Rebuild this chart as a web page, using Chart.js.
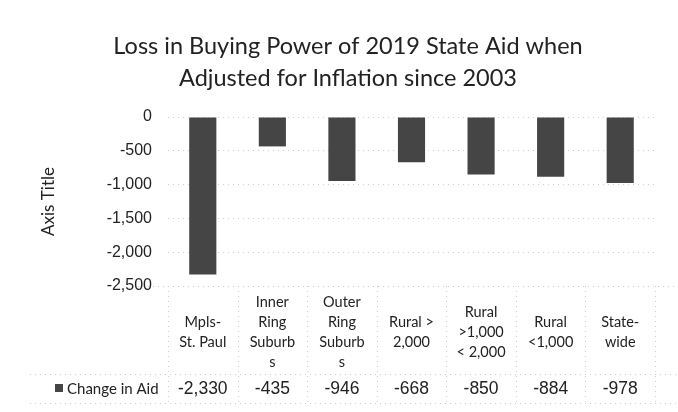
<!DOCTYPE html>
<html>
<head>
<meta charset="utf-8">
<script src="https://cdn.jsdelivr.net/npm/chart.js@4/dist/chart.umd.min.js"></script>
<style>
  html, body { margin: 0; padding: 0; background: #fff; }
  #wrap { width: 678px; height: 412px; }
</style>
</head>
<body>
<div id="wrap"><canvas id="chart" width="678" height="412"></canvas></div>
<script>
// data
const categories = ['Mpls-St. Paul', 'Inner Ring Suburbs', 'Outer Ring Suburbs', 'Rural > 2,000', 'Rural >1,000 < 2,000', 'Rural <1,000', 'State-wide'];
// how the labels wrap in the table cells
const categoryLines = [
  ['Mpls-', 'St. Paul'],
  ['Inner', 'Ring', 'Suburb', 's'],
  ['Outer', 'Ring', 'Suburb', 's'],
  ['Rural >', '2,000'],
  ['Rural', '>1,000', '< 2,000'],
  ['Rural', '<1,000'],
  ['State-', 'wide']
];
const changeInAid = [-2330, -435, -946, -668, -850, -884, -978];
const seriesName = 'Change in Aid';
const titleLines = ['Loss in Buying Power of 2019 State Aid when', 'Adjusted for Inflation since 2003'];

const textFont = 'Lato, "Open Sans", sans-serif';
const numFont = '"Liberation Sans", Arial, sans-serif';
const barColor = '#454545';
const gridColor = '#cfcfcf';

const fmt = v => v.toLocaleString('en-US');

// title is drawn by hand so it can sit off-centre like the original
const chartTitle = {
  id: 'chartTitle',
  afterDraw(chart) {
    const ctx = chart.ctx;
    ctx.save();
    ctx.fillStyle = '#222';
    ctx.textAlign = 'center';
    ctx.textBaseline = 'middle';
    ctx.font = '23.5px ' + textFont;
    titleLines.forEach((t, i) => ctx.fillText(t, 348, 46 + i * 32));
    ctx.restore();
  }
};

// draws the data table under the plot
const dataTable = {
  id: 'dataTable',
  afterDraw(chart) {
    const ctx = chart.ctx;
    const x = chart.scales.x;
    const area = chart.chartArea;
    const top = area.bottom;
    const mid = 374;
    const bottom = 403;
    const step = x.getPixelForValue(1) - x.getPixelForValue(0);

    ctx.save();
    ctx.strokeStyle = gridColor;
    ctx.lineWidth = 1;
    ctx.setLineDash([1, 4]);
    ctx.beginPath();
    ctx.moveTo(area.left - 30, top + 0.5); ctx.lineTo(678, top + 0.5);
    ctx.moveTo(30, mid + 0.5); ctx.lineTo(678, mid + 0.5);
    ctx.moveTo(30, bottom + 0.5); ctx.lineTo(678, bottom + 0.5);
    for (let i = 0; i <= categories.length; i++) {
      const px = Math.round(x.getPixelForValue(i) - step / 2) + 0.5;
      ctx.moveTo(px, top); ctx.lineTo(px, bottom);
    }
    ctx.stroke();
    ctx.setLineDash([]);

    ctx.fillStyle = '#222';
    ctx.textAlign = 'center';
    ctx.textBaseline = 'middle';
    ctx.font = '14.5px ' + textFont;
    const lh = 20;
    categoryLines.forEach((lines, i) => {
      const cx = x.getPixelForValue(i);
      const y0 = 332 - (lines.length - 1) * lh / 2;
      lines.forEach((t, j) => ctx.fillText(t, cx, y0 + j * lh));
    });

    ctx.font = '17.5px ' + numFont;
    const vy = 389;
    changeInAid.forEach((v, i) => ctx.fillText(fmt(v), x.getPixelForValue(i), vy));

    ctx.fillStyle = barColor;
    ctx.fillRect(55, vy - 5, 8, 8);
    ctx.fillStyle = '#222';
    ctx.textAlign = 'left';
    ctx.font = '15px ' + textFont;
    ctx.fillText(seriesName, 67, vy);
    ctx.restore();
  }
};

new Chart(document.getElementById('chart'), {
  type: 'bar',
  data: {
    labels: categories,
    datasets: [{
      label: seriesName,
      data: changeInAid,
      backgroundColor: barColor,
      borderWidth: 0,
      categoryPercentage: 1,
      barPercentage: 0.39
    }]
  },
  options: {
    responsive: false,
    animation: false,
    layout: { padding: { left: 0, right: 23, top: 117, bottom: 126 } },
    plugins: {
      legend: { display: false },
      tooltip: { enabled: false },
      title: { display: false }
    },
    scales: {
      x: { display: false },
      y: {
        min: -2500,
        max: 0,
        ticks: {
          stepSize: 500,
          padding: 16,
          color: '#222',
          font: { family: numFont, size: 16 },
          callback: v => fmt(v)
        },
        grid: { color: gridColor, drawTicks: false },
        border: { display: false, dash: [1, 4] },
        title: {
          display: true,
          text: 'Axis Title',
          color: '#222',
          font: { family: textFont, size: 17 },
          padding: { top: 38, bottom: 0 }
        },
        afterFit(scale) { scale.width = 168; }
      }
    }
  },
  plugins: [chartTitle, dataTable]
});
</script>
</body>
</html>
